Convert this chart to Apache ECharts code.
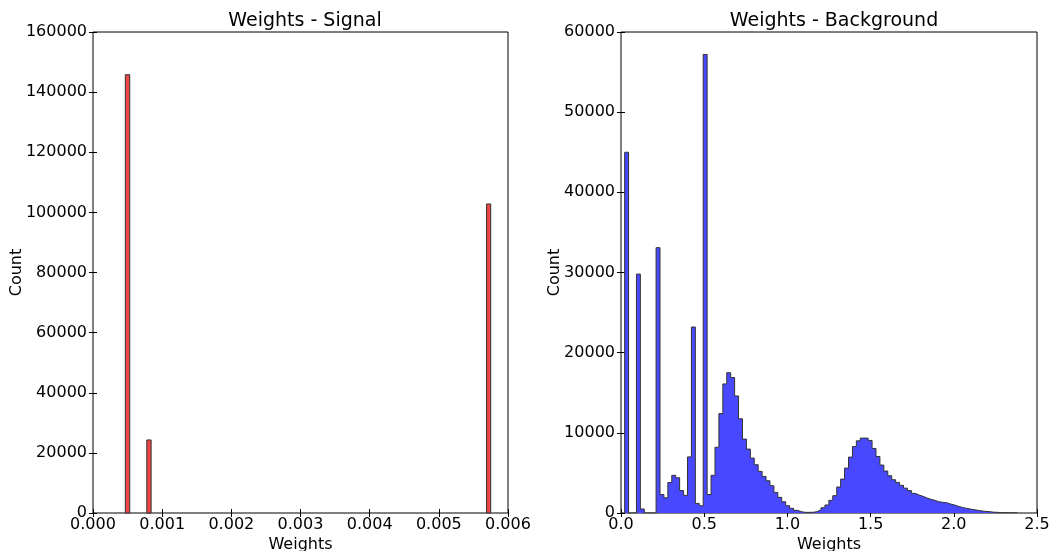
<!DOCTYPE html>
<html>
<head>
<meta charset="utf-8">
<script src="https://cdn.jsdelivr.net/npm/echarts@6/dist/echarts.min.js"></script>
<style>html,body{margin:0;padding:0;background:#fff}#c{width:1051px;height:551px}</style>
</head>
<body>
<div id="c"></div>
<script>
// ---- Signal histogram (three occupied bins) ----
const sigBinLo = [0.000467, 0.000778, 0.00569];
const sigBinHi = [0.000531, 0.000840, 0.00575];
const sigCounts = [145800, 24300, 102800];
const sigXTicks = [0, 0.001, 0.002, 0.003, 0.004, 0.005, 0.006];
const sigYTicks = [0, 20000, 40000, 60000, 80000, 100000, 120000, 140000, 160000];

// ---- Background histogram (100 bins) ----
const bkgBinStart = 0.022;
const bkgBinWidth = 0.0236;
const bkgCounts = [
  45000, 0, 0, 29800, 500, 0, 0, 0, 33100, 2300,
  1900, 3800, 4700, 4400, 2800, 2200, 7000, 23200, 1200, 900,
  57200, 2300, 4700, 8200, 12400, 16100, 17500, 16900, 14600, 11750,
  9220, 7970, 6850, 6020, 5190, 4560, 4020, 3400, 2570, 1950,
  1400, 910, 580, 330, 170, 80, 80, 90, 170, 410,
  660, 1000, 1580, 2160, 3240, 4230, 5600, 6970, 8300, 9000,
  9340, 9340, 9050, 8050, 7050, 5980, 5230, 4650, 4150, 3820,
  3450, 3100, 2800, 2450, 2240, 2075, 1870, 1700, 1580, 1410,
  1330, 1290, 1120, 1000, 830, 700, 580, 500, 415, 330,
  250, 200, 165, 100, 80, 40, 40, 40, 30, 20
];
const bkgXTicks = [0, 0.5, 1.0, 1.5, 2.0, 2.5];
const bkgYTicks = [0, 10000, 20000, 30000, 40000, 50000, 60000];

const FONT = 'DejaVu Sans';

const sigData = sigCounts.map((c, i) => [sigBinLo[i], sigBinHi[i], c]);
const bkgData = [[bkgBinStart, 0]];
bkgCounts.forEach((c, i) => bkgData.push([bkgBinStart + i * bkgBinWidth, c]));
bkgData.push([bkgBinStart + bkgCounts.length * bkgBinWidth, 0]);

function xAx(gi, ticks, dec, pos) {
  const main = pos === 'bottom';
  return {
    type: 'value', gridIndex: gi, position: pos,
    min: ticks[0], max: ticks[ticks.length - 1], interval: ticks[1] - ticks[0],
    axisLine: {show: false},
    axisTick: {show: true, inside: true, length: 4, lineStyle: {color: '#000', width: 1}},
    splitLine: {show: false},
    axisLabel: {show: main, formatter: v => v.toFixed(dec), color: '#000', fontFamily: FONT, fontSize: 16, margin: 4,
      showMinLabel: true, showMaxLabel: true, hideOverlap: false},
    name: main ? 'Weights' : '', nameLocation: 'middle', nameGap: 24, nameMoveOverlap: false,
    nameTextStyle: {color: '#000', fontFamily: FONT, fontSize: 16}
  };
}
function yAx(gi, ticks, pos, gap) {
  const main = pos === 'left';
  return {
    type: 'value', gridIndex: gi, position: pos,
    min: ticks[0], max: ticks[ticks.length - 1], interval: ticks[1] - ticks[0],
    axisLine: {show: false},
    axisTick: {show: true, inside: true, length: 4, lineStyle: {color: '#000', width: 1}},
    splitLine: {show: false},
    axisLabel: {show: main, formatter: v => String(v), color: '#000', fontFamily: FONT, fontSize: 16, margin: 6,
      showMinLabel: true, showMaxLabel: true, hideOverlap: false},
    name: main ? 'Count' : '', nameLocation: 'middle', nameGap: gap, nameRotate: 90, nameMoveOverlap: false,
    nameTextStyle: {color: '#000', fontFamily: FONT, fontSize: 16}
  };
}

const chart = echarts.init(document.getElementById('c'), null, {renderer: 'canvas'});
chart.setOption({
  animation: false,
  backgroundColor: '#fff',
  title: [
    {text: 'Weights - Signal', left: 300, top: 7, textAlign: 'center',
     textStyle: {fontFamily: FONT, fontSize: 19, fontWeight: 'normal', color: '#000'}},
    {text: 'Weights - Background', left: 829, top: 7, textAlign: 'center',
     textStyle: {fontFamily: FONT, fontSize: 19, fontWeight: 'normal', color: '#000'}}
  ],
  grid: [
    {left: 93, top: 32, width: 415, height: 481, outerBoundsMode: 'none', containLabel: false,
     show: true, borderColor: '#000', borderWidth: 1, backgroundColor: 'transparent'},
    {left: 621, top: 32, width: 416, height: 481, outerBoundsMode: 'none', containLabel: false,
     show: true, borderColor: '#000', borderWidth: 1, backgroundColor: 'transparent'}
  ],
  xAxis: [
    xAx(0, sigXTicks, 3, 'bottom'), xAx(0, sigXTicks, 3, 'top'),
    xAx(1, bkgXTicks, 1, 'bottom'), xAx(1, bkgXTicks, 1, 'top')
  ],
  yAxis: [
    yAx(0, sigYTicks, 'left', 68), yAx(0, sigYTicks, 'right', 0),
    yAx(1, bkgYTicks, 'left', 58), yAx(1, bkgYTicks, 'right', 0)
  ],
  series: [
    {
      type: 'custom', xAxisIndex: 0, yAxisIndex: 0,
      data: sigData,
      encode: {x: [0, 1], y: 2},
      renderItem: function (params, api) {
        const p0 = api.coord([api.value(0), api.value(2)]);
        const p1 = api.coord([api.value(1), 0]);
        return {type: 'rect',
          shape: {x: p0[0], y: p0[1], width: p1[0] - p0[0], height: p1[1] - p0[1]},
          style: {fill: '#ee4444', stroke: '#333', lineWidth: 1}};
      }
    },
    {
      type: 'line', xAxisIndex: 2, yAxisIndex: 2,
      data: bkgData, step: 'end', symbol: 'none',
      lineStyle: {color: '#333', width: 1},
      areaStyle: {color: '#4848ff', opacity: 1}
    }
  ]
});
</script>
</body>
</html>
